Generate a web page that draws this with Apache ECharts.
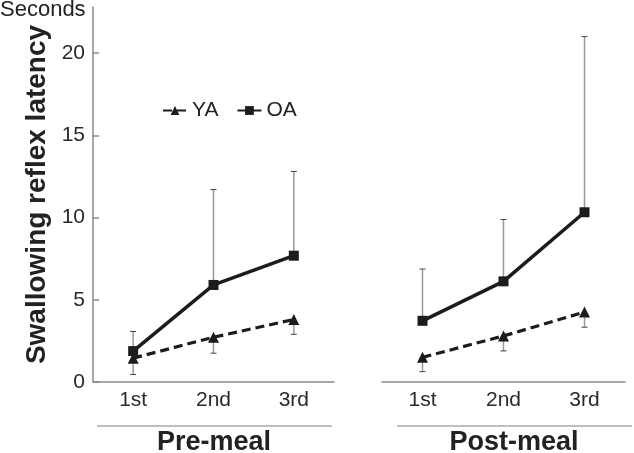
<!DOCTYPE html>
<html>
<head>
<meta charset="utf-8">
<script src="https://cdn.jsdelivr.net/npm/echarts@6/dist/echarts.min.js"></script>
<style>html,body{margin:0;padding:0;background:#fff}#c{width:634px;height:453px}</style>
</head>
<body>
<div id="c"></div>
<script>
const categories = ['1st', '2nd', '3rd'];
const yTicks = [0, 5, 10, 15, 20];
const preOA = [1.88, 5.9, 7.68];
const preOAUpper = [3.07, 11.7, 12.8];
const preYA = [1.45, 2.72, 3.8];
const preYALower = [0.46, 1.75, 2.9];
const postOA = [3.72, 6.12, 10.32];
const postOAUpper = [6.87, 9.88, 21.0];
const postYA = [1.5, 2.8, 4.25];
const postYALower = [0.63, 1.89, 3.33];

const FONT = 'Liberation Sans, Arial, sans-serif';
const INK = '#1c1c1c';

function errData(mean, end) { return categories.map((c, i) => [i, mean[i], end[i]]); }
function renderErr(params, api) {
  const p1 = api.coord([api.value(0), api.value(1)]);
  const p2 = api.coord([api.value(0), api.value(2)]);
  return { type: 'group', children: [
    { type: 'line', shape: { x1: p1[0], y1: p1[1], x2: p2[0], y2: p2[1] }, style: { stroke: '#9a9a9a', lineWidth: 1.5 } },
    { type: 'line', shape: { x1: p2[0] - 3, y1: p2[1], x2: p2[0] + 3, y2: p2[1] }, style: { stroke: '#444', lineWidth: 1 } }
  ]};
}

const xAxisBase = (gi) => ({
  type: 'category', gridIndex: gi, data: categories, boundaryGap: true,
  axisLine: { lineStyle: { color: '#8a8a8a', width: 1.5 } },
  axisTick: { inside: true, length: 6, lineStyle: { color: '#8a8a8a', width: 1.5 } },
  axisLabel: { fontSize: 21, color: '#2a2a2a', fontFamily: FONT, margin: 8 }
});

const chart = echarts.init(document.getElementById('c'), null, { renderer: 'canvas' });
chart.setOption({
  animation: false,
  backgroundColor: '#fff',
  textStyle: { fontFamily: FONT },
  grid: [
    { left: 93, top: 7, width: 241, height: 375 },
    { left: 382, top: 7, width: 243, height: 375 }
  ],
  legend: {
    data: ['YA', 'OA'], left: 157, top: 95, itemWidth: 24, itemHeight: 11, itemGap: 18,
    textStyle: { fontSize: 21, color: '#222', fontFamily: FONT }
  },
  xAxis: [xAxisBase(0), xAxisBase(1)],
  yAxis: [
    { type: 'value', gridIndex: 0, min: 0, max: 22.8,
      name: 'Swallowing reflex latency', nameLocation: 'middle', nameGap: 42, nameRotate: 90,
      nameTextStyle: { fontSize: 28, fontWeight: 'bold', color: '#222', fontFamily: FONT },
      axisLine: { show: true, lineStyle: { color: '#8a8a8a', width: 1.5 } },
      axisTick: { show: true, inside: true, length: 6, customValues: yTicks, lineStyle: { color: '#8a8a8a', width: 1.5 } },
      axisLabel: { fontSize: 21, color: '#2a2a2a', fontFamily: FONT, margin: 8, customValues: yTicks },
      splitLine: { show: false } },
    { type: 'value', gridIndex: 1, min: 0, max: 22.8,
      axisLine: { show: false }, axisTick: { show: false }, axisLabel: { show: false }, splitLine: { show: false } }
  ],
  series: [
    { type: 'custom', name: 'errPreOA', xAxisIndex: 0, yAxisIndex: 0, z: 1, renderItem: renderErr, data: errData(preOA, preOAUpper) },
    { type: 'custom', name: 'errPreYA', xAxisIndex: 0, yAxisIndex: 0, z: 1, renderItem: renderErr, data: errData(preYA, preYALower) },
    { type: 'custom', name: 'errPostOA', xAxisIndex: 1, yAxisIndex: 1, z: 1, renderItem: renderErr, data: errData(postOA, postOAUpper) },
    { type: 'custom', name: 'errPostYA', xAxisIndex: 1, yAxisIndex: 1, z: 1, renderItem: renderErr, data: errData(postYA, postYALower) },
    { type: 'line', name: 'YA', xAxisIndex: 0, yAxisIndex: 0, data: preYA, z: 3,
      symbol: 'triangle', symbolSize: 11, itemStyle: { color: INK },
      lineStyle: { color: INK, width: 3.2, type: [9, 5] } },
    { type: 'line', name: 'OA', xAxisIndex: 0, yAxisIndex: 0, data: preOA, z: 4,
      symbol: 'rect', symbolSize: 10, itemStyle: { color: INK },
      lineStyle: { color: INK, width: 3.5 } },
    { type: 'line', name: 'YA', xAxisIndex: 1, yAxisIndex: 1, data: postYA, z: 3,
      symbol: 'triangle', symbolSize: 11, itemStyle: { color: INK },
      lineStyle: { color: INK, width: 3.2, type: [9, 5] } },
    { type: 'line', name: 'OA', xAxisIndex: 1, yAxisIndex: 1, data: postOA, z: 4,
      symbol: 'rect', symbolSize: 10, itemStyle: { color: INK },
      lineStyle: { color: INK, width: 3.5 } }
  ],
  graphic: [
    { type: 'text', left: 0, top: -1, style: { text: 'Seconds', fontSize: 22, fill: '#222', fontFamily: FONT } },
    { type: 'line', shape: { x1: 97, y1: 426, x2: 332, y2: 426 }, style: { stroke: '#aaa', lineWidth: 1.5 } },
    { type: 'line', shape: { x1: 397, y1: 426, x2: 632, y2: 426 }, style: { stroke: '#aaa', lineWidth: 1.5 } },
    { type: 'text', x: 214, y: 443, style: { text: 'Pre-meal', fontSize: 27, fontWeight: 'bold', fill: '#222', fontFamily: FONT, textAlign: 'center', textVerticalAlign: 'middle' } },
    { type: 'text', x: 514, y: 443, style: { text: 'Post-meal', fontSize: 27, fontWeight: 'bold', fill: '#222', fontFamily: FONT, textAlign: 'center', textVerticalAlign: 'middle' } }
  ]
});
</script>
</body>
</html>
